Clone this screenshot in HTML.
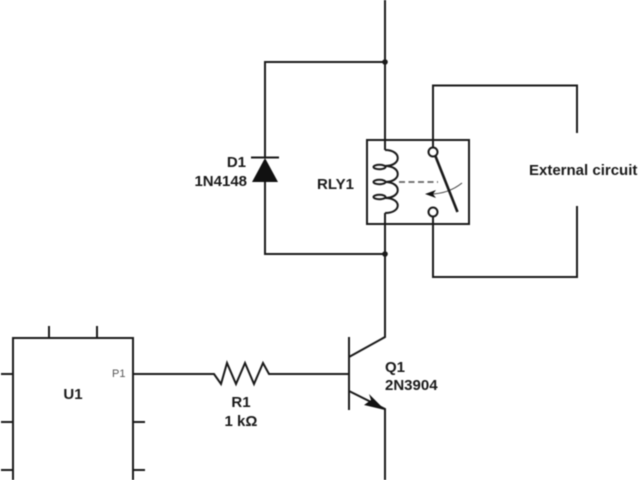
<!DOCTYPE html>
<html>
<head>
<meta charset="utf-8">
<style>
html,body{margin:0;padding:0;background:#fff;width:640px;height:480px;overflow:hidden}
svg{display:block;filter:blur(0.4px)}
text{font-family:"Liberation Sans",sans-serif;font-weight:bold;font-size:15px;fill:#1a1a1a}
.w{fill:none;stroke:#1a1a1a;stroke-width:2}
</style>
</head>
<body>
<svg width="640" height="480" viewBox="0 0 640 480" xmlns="http://www.w3.org/2000/svg">
<rect width="640" height="480" fill="#fff"/>
<!-- main wires -->
<path class="w" d="M385 0V150M385 213V337L349 357M265 157V62H385M265 181V254H385"/>
<circle cx="385" cy="62" r="2.8" fill="#1a1a1a"/>
<circle cx="385" cy="254" r="2.8" fill="#1a1a1a"/>
<!-- diode -->
<path class="w" d="M251 157.500H279"/>
<path d="M265 158L252 182H278Z" fill="#111"/>
<text x="246" y="167" text-anchor="end">D1</text>
<text x="247" y="186" text-anchor="end">1N4148</text>
<!-- relay -->
<rect class="w" x="367" y="140" width="102" height="84"/>
<path class="w" d="M385 150C402 150 402 166 385 166C402 166 402 182 385 182C402 182 402 198 385 198C402 198 402 213 385 213"/>
<ellipse cx="379.500" cy="167" rx="6" ry="2.200" class="w"/>
<ellipse cx="379.500" cy="182" rx="6" ry="2.200" class="w"/>
<ellipse cx="379.500" cy="197" rx="6" ry="2.200" class="w"/>
<path d="M399 182H438" fill="none" stroke="#666" stroke-width="1.800" stroke-dasharray="6 3.500"/>
<path d="M462 183C452 191 441 194 430 194" fill="none" stroke="#444" stroke-width="1.100"/>
<path d="M425 194L436 190L433 194L436 198Z" fill="#111"/>
<path class="w" d="M435 155L457.500 212" style="stroke-width:2.600"/>
<circle cx="433" cy="152" r="4.500" fill="#fff" stroke="#1a1a1a" stroke-width="2"/>
<circle cx="433" cy="212" r="4.500" fill="#fff" stroke="#1a1a1a" stroke-width="2"/>
<text x="354" y="189" text-anchor="end">RLY1</text>
<!-- external -->
<path class="w" d="M433 147V85.500H577V133M577 206V277H433V217"/>
<text x="529" y="175">External circuit</text>
<!-- transistor -->
<path class="w" d="M349 337V410M349 391L385 409V480"/>
<path d="M385 410L369 394L371 400L364 405Z" fill="#111"/>
<text x="385" y="372">Q1</text>
<text x="385" y="390">2N3904</text>
<!-- resistor and base wire -->
<path class="w" d="M133 374H214L221 384L227 363L236 384L245 363L254 384L263 363L269 374H349"/>
<text x="241" y="407" text-anchor="middle">R1</text>
<text x="241" y="426" text-anchor="middle">1 kΩ</text>
<!-- U1 -->
<path class="w" d="M13 480V338H133V480M49 326V338M97 326V338M1 374H13M1 422H13M1 470H13M133 422H145M133 470H145"/>
<text x="73" y="399" text-anchor="middle">U1</text>
<text x="125.500" y="377" text-anchor="end" style="font-size:11px;font-weight:normal;fill:#555">P1</text>
</svg>
</body>
</html>
